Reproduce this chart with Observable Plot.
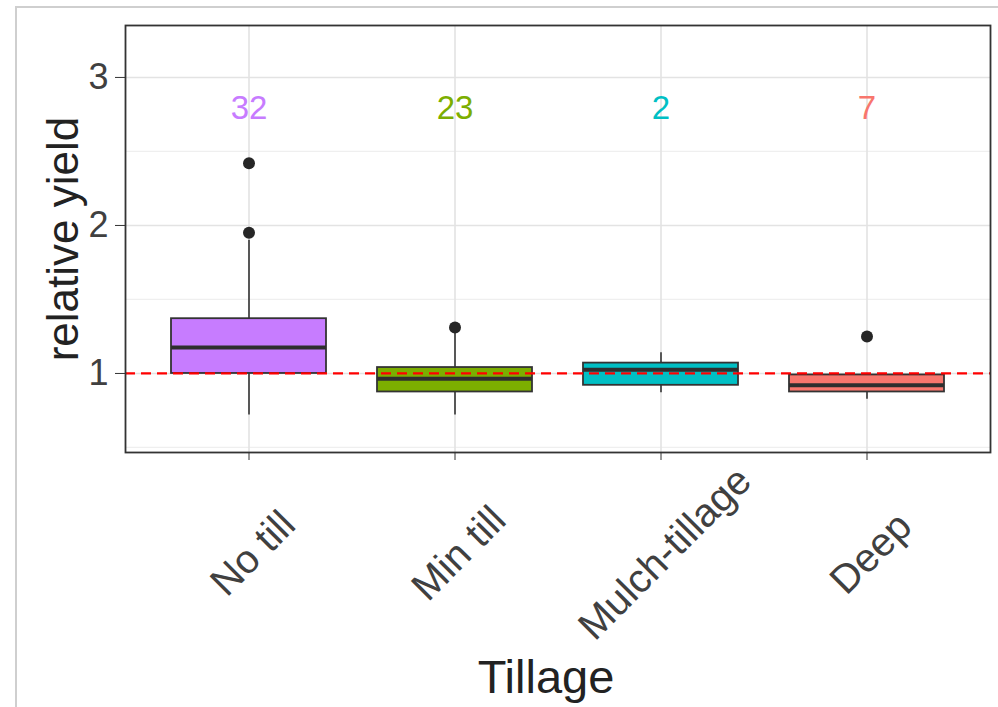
<!DOCTYPE html>
<html><head><meta charset="utf-8">
<script src="https://cdn.jsdelivr.net/npm/d3@7"></script>
<script src="https://cdn.jsdelivr.net/npm/@observablehq/plot@0.6"></script>
<style>
html,body{margin:0;padding:0;background:#fff;}
#wrap{position:relative;width:998px;height:707px;overflow:hidden;font-family:"Liberation Sans",Arial,sans-serif;}
#edge{position:absolute;left:15px;top:6px;width:1000px;height:720px;border-left:2px solid #cfcfcf;border-top:2px solid #cfcfcf;pointer-events:none;}
#wrap svg{position:absolute;left:0;top:0;}
</style></head><body><div id="wrap"><div id="edge"></div></div>
<script>
const categories = ["No till", "Min till", "Mulch-tillage", "Deep"];
const counts = [32, 23, 2, 7];
const colors = ["#C77CFF", "#7CAE00", "#00BFC4", "#F8766D"];
const q1 = [1.00, 0.875, 0.92, 0.875];
const medians = [1.175, 0.965, 1.025, 0.92];
const q3 = [1.37, 1.04, 1.07, 0.99];
const whiskerLow = [0.72, 0.72, 0.87, 0.825];
const whiskerHigh = [1.90, 1.27, 1.14, 0.99];
const outlierCategory = ["No till", "No till", "Min till", "Deep"];
const outlierValue = [2.42, 1.95, 1.31, 1.25];
const yTicks = [1, 2, 3];
const yMinor = [0.5, 1.5, 2.5];
const refLine = [1];
const countLabelY = 2.79;
const xTitle = "Tillage";
const yTitle = "relative yield";

const boxes = categories.map((c, i) => ({cat: c, n: counts[i], q1: q1[i], med: medians[i], q3: q3[i], lo: whiskerLow[i], hi: whiskerHigh[i]}));
const outliers = outlierCategory.map((c, i) => ({cat: c, v: outlierValue[i]}));

const font = "Liberation Sans, Arial, sans-serif";
const chart = Plot.plot({
  width: 998,
  height: 707,
  marginLeft: 125,
  marginRight: 8,
  marginTop: 25,
  marginBottom: 255,
  style: {fontFamily: font, background: "transparent"},
  x: {type: "band", domain: categories, paddingInner: 0.25, paddingOuter: 0.2245},
  y: {domain: [0.466, 3.351]},
  color: {domain: categories, range: colors},
  marks: [
    Plot.gridY(yMinor, {stroke: "#efefef", strokeOpacity: 1, strokeWidth: 1.2}),
    Plot.gridY(yTicks, {stroke: "#e3e3e3", strokeOpacity: 1, strokeWidth: 1.6}),
    Plot.gridX({stroke: "#e3e3e3", strokeOpacity: 1, strokeWidth: 1.6}),
    Plot.ruleX(boxes, {x: "cat", y1: "lo", y2: "hi", stroke: "#333", strokeWidth: 1.6}),
    Plot.barY(boxes, {x: "cat", y1: "q1", y2: "q3", fill: "cat", stroke: "#333", strokeWidth: 1.8}),
    Plot.tickY(boxes, {x: "cat", y: "med", stroke: "#2e2e2e", strokeWidth: 4}),
    Plot.ruleY(refLine, {stroke: "#ff0000", strokeWidth: 2.2, strokeDasharray: "10,6"}),
    Plot.dot(outliers, {x: "cat", y: "v", r: 6, fill: "#262626", stroke: null}),
    Plot.text(boxes, {x: "cat", y: () => countLabelY, text: "n", fill: "cat", fontSize: 33}),
    Plot.frame({stroke: "#333", strokeWidth: 1.8}),
    Plot.axisY({ticks: yTicks, tickFormat: "d", tickSize: 10, tickPadding: 7, fontSize: 36, stroke: "#333", fill: "#404040", label: null}),
    Plot.axisX({tickSize: 8, tickFormat: () => "", stroke: "#333", label: null}),
    Plot.text(categories, {x: d => d, frameAnchor: "bottom", rotate: -45, textAnchor: "middle", lineAnchor: "middle", dx: 4, dy: 101, fontSize: 40, fill: "#404040"}),
    Plot.text([xTitle], {frameAnchor: "bottom", textAnchor: "middle", lineAnchor: "middle", dx: -12, dy: 225, fontSize: 47, fill: "#222"}),
    Plot.text([yTitle], {frameAnchor: "left", textAnchor: "middle", lineAnchor: "middle", dx: -62, rotate: -90, fontSize: 44, fill: "#222"})
  ]
});
document.getElementById("wrap").appendChild(chart);
</script>
</body></html>
